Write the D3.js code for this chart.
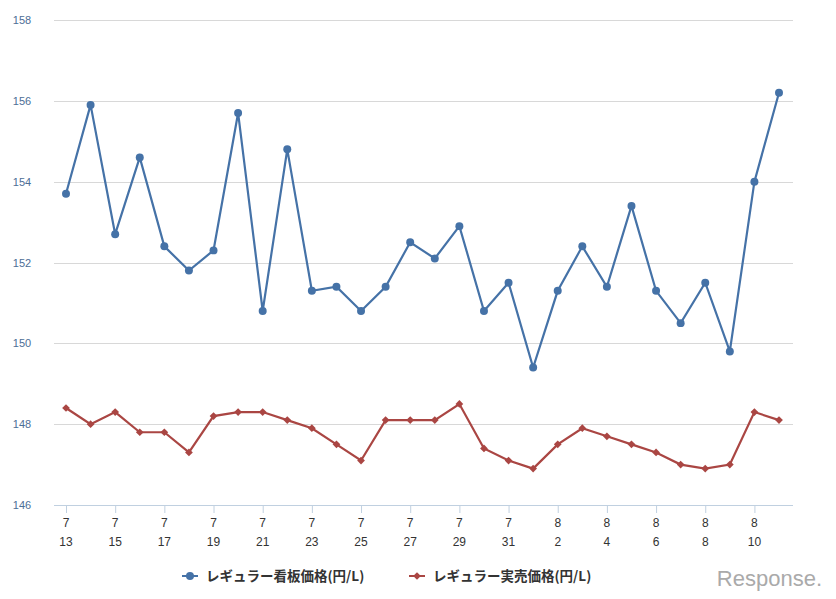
<!DOCTYPE html>
<html><head><meta charset="utf-8">
<script src="https://cdn.jsdelivr.net/npm/d3@7"></script>
<style>body{margin:0;background:#fff;font-family:"Noto Sans CJK JP","DejaVu Sans",sans-serif;}</style>
</head><body><div id="content"></div>
<script>
var dates = ['7/13','7/14','7/15','7/16','7/17','7/18','7/19','7/20','7/21','7/22','7/23','7/24','7/25','7/26','7/27','7/28','7/29','7/30','7/31','8/1','8/2','8/3','8/4','8/5','8/6','8/7','8/8','8/9','8/10','8/11'];
var signPrice = [153.7,155.9,152.7,154.6,152.4,151.8,152.3,155.7,150.8,154.8,151.3,151.4,150.8,151.4,152.5,152.1,152.9,150.8,151.5,149.4,151.3,152.4,151.4,153.4,151.3,150.5,151.5,149.8,154.0,156.2];
var realPrice = [148.4,148.0,148.3,147.8,147.8,147.3,148.2,148.3,148.3,148.1,147.9,147.5,147.1,148.1,148.1,148.1,148.5,147.4,147.1,146.9,147.5,147.9,147.7,147.5,147.3,147.0,146.9,147.0,148.3,148.1];
var yTicks = [146,148,150,152,154,156,158];
var seriesNames = ['レギュラー看板価格(円/L)','レギュラー実売価格(円/L)'];
var colors = ['#4572a7','#aa4643'];

var W = 836, H = 599, plotLeft = 54, plotRight = 793, plotTop = 20, plotBottom = 505;
var svg = d3.select('#content').append('svg').attr('width', W).attr('height', H);

var x = d3.scalePoint().domain(d3.range(dates.length)).range([66, 779]);
var y = d3.scaleLinear().domain([146, 158]).range([plotBottom, plotTop]);

// grid
svg.selectAll('.grid').data(yTicks.slice(1)).enter().append('line')
    .attr('x1', plotLeft).attr('x2', plotRight)
    .attr('y1', function(d) { return Math.round(y(d)) + 0.5; }).attr('y2', function(d) { return Math.round(y(d)) + 0.5; })
    .attr('stroke', '#d8d8d8');
svg.append('line').attr('x1', plotLeft).attr('x2', plotRight).attr('y1', plotBottom + 0.5).attr('y2', plotBottom + 0.5).attr('stroke', '#c0d0e0');

svg.selectAll('.ylab').data(yTicks).enter().append('text')
    .attr('x', 22).attr('y', function(d) { return y(d) + 4; })
    .attr('text-anchor', 'middle').attr('font-size', 11).attr('fill', '#4d6e96')
    .attr('font-family', 'Liberation Sans, Arial, sans-serif')
    .text(function(d) { return d; });

// x ticks and labels
var labeled = d3.range(0, dates.length, 2);
svg.selectAll('.xt').data(labeled).enter().append('line')
    .attr('x1', function(i) { return x(i) + 0.5; }).attr('x2', function(i) { return x(i) + 0.5; })
    .attr('y1', plotBottom).attr('y2', plotBottom + 8).attr('stroke', '#c0d0e0');
labeled.forEach(function(i) {
    var p = dates[i].split('/');
    var t = svg.append('text').attr('text-anchor', 'middle').attr('font-size', 12).attr('fill', '#333')
        .attr('font-family', 'Liberation Sans, Arial, sans-serif');
    t.append('tspan').attr('x', x(i)).attr('y', 527).text(p[0]);
    t.append('tspan').attr('x', x(i)).attr('y', 546).text(p[1]);
});

function marker(k) {
    return d3.symbol().type(k === 0 ? d3.symbolCircle : d3.symbolSquare).size(k === 0 ? 50 : 30)();
}

// lines
[signPrice, realPrice].forEach(function(vals, k) {
    svg.append('path').datum(vals)
        .attr('fill', 'none').attr('stroke', colors[k]).attr('stroke-width', 2.2)
        .attr('d', d3.line().x(function(d, i) { return x(i); }).y(function(d) { return y(d); }));
    svg.selectAll('.m' + k).data(vals).enter().append('path')
        .attr('transform', function(d, i) { return 'translate(' + x(i) + ',' + y(d) + ')' + (k ? ' rotate(45)' : ''); })
        .attr('d', marker(k))
        .attr('fill', colors[k]);
});

// legend
var lx = [182, 409];
seriesNames.forEach(function(n, k) {
    svg.append('line').attr('x1', lx[k]).attr('x2', lx[k] + 16).attr('y1', 576).attr('y2', 576)
        .attr('stroke', colors[k]).attr('stroke-width', 2);
    svg.append('path').attr('transform', 'translate(' + (lx[k] + 8) + ',576)' + (k ? ' rotate(45)' : ''))
        .attr('d', marker(k))
        .attr('fill', colors[k]);
    svg.append('text').attr('x', lx[k] + 24).attr('y', 581).attr('font-size', 13.5).attr('font-weight', 'bold')
        .attr('fill', '#333').text(n);
});

svg.append('text').attr('x', 822).attr('y', 586).attr('text-anchor', 'end')
    .attr('font-size', 22).attr('fill', '#aaa').attr('font-family', 'Liberation Sans, sans-serif')
    .text('Response.');
</script>
</body></html>
